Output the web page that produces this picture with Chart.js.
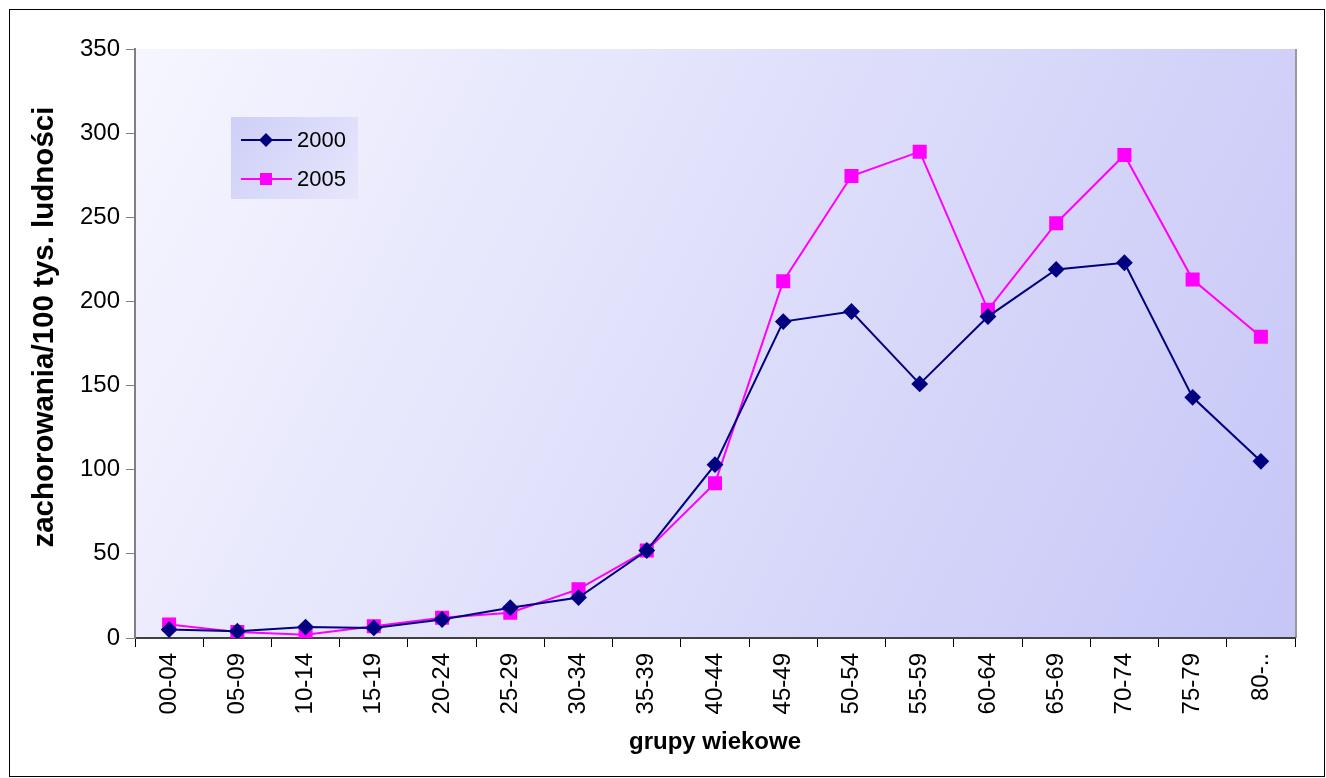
<!DOCTYPE html>
<html>
<head>
<meta charset="utf-8">
<script src="https://cdn.jsdelivr.net/npm/chart.js@4.4.1/dist/chart.umd.min.js"></script>
<style>
  html, body { margin: 0; padding: 0; background: #fff; }
  #wrap { width: 1326px; height: 778px; position: relative; }
</style>
</head>
<body>
<div id="wrap"><canvas id="chart" width="1326" height="778"></canvas></div>
<script>
const ageGroups = ['00-04', '05-09', '10-14', '15-19', '20-24', '25-29', '30-34', '35-39', '40-44',
    '45-49', '50-54', '55-59', '60-64', '65-69', '70-74', '75-79', '80-..'];
const rates2000 = [5, 4, 6.5, 6, 11, 18, 24, 52, 103, 188, 194, 151, 191, 219, 223, 143, 105];
const rates2005 = [8, 3.5, 2, 7, 12, 15, 29, 52, 92, 212, 274.5, 289, 195, 246.5, 287, 213, 179];
const yTicks = [0, 50, 100, 150, 200, 250, 300, 350];

const FONT = '"Liberation Sans", Arial, sans-serif';

// gradient plot background + outer frame
const backdrop = {
    id: 'backdrop',
    beforeDraw(chart) {
        const { ctx, chartArea: a } = chart;
        ctx.save();
        ctx.fillStyle = '#fff';
        ctx.fillRect(0, 0, chart.width, chart.height);
        const g = ctx.createLinearGradient(a.left, a.top, a.right, a.bottom);
        g.addColorStop(0, '#f6f6ff');
        g.addColorStop(1, '#c6c6f7');
        ctx.fillStyle = g;
        ctx.fillRect(a.left, a.top, a.right - a.left, a.bottom - a.top);
        // right shadow edge
        ctx.strokeStyle = '#9a9a9a';
        ctx.lineWidth = 2;
        ctx.beginPath();
        ctx.moveTo(a.right + 1, a.top);
        ctx.lineTo(a.right + 1, a.bottom);
        ctx.stroke();
        ctx.strokeStyle = '#000';
        ctx.lineWidth = 1;
        ctx.strokeRect(9.5, 9.5, chart.width - 11, chart.height - 11);
        ctx.restore();
    }
};

// legend box drawn inside the plot
const innerLegend = {
    id: 'innerLegend',
    afterDatasetsDraw(chart) {
        const { ctx } = chart;
        const x = 231, y = 117, w = 127, h = 82;
        ctx.save();
        const g = ctx.createLinearGradient(x, y, x + w, y + h);
        g.addColorStop(0, '#cfcff8');
        g.addColorStop(1, '#e6e6fc');
        ctx.fillStyle = g;
        ctx.fillRect(x, y, w, h);
        chart.data.datasets.forEach((ds, i) => {
            const cy = y + 23 + i * 39;
            ctx.strokeStyle = ds.borderColor;
            ctx.lineWidth = 2;
            ctx.beginPath();
            ctx.moveTo(x + 10, cy);
            ctx.lineTo(x + 61, cy);
            ctx.stroke();
            ctx.fillStyle = ds.backgroundColor;
            ctx.beginPath();
            if (ds.pointStyle === 'rectRot') {
                const r = 7;
                ctx.moveTo(x + 35 - r, cy);
                ctx.lineTo(x + 35, cy - r);
                ctx.lineTo(x + 35 + r, cy);
                ctx.lineTo(x + 35, cy + r);
                ctx.closePath();
            } else {
                ctx.rect(x + 35 - 6, cy - 6, 12, 12);
            }
            ctx.fill();
            ctx.fillStyle = '#000';
            ctx.font = '22px ' + FONT;
            ctx.textBaseline = 'middle';
            ctx.fillText(ds.label, x + 66, cy + 1);
        });
        ctx.restore();
    }
};

new Chart(document.getElementById('chart'), {
    type: 'line',
    data: {
        labels: ageGroups,
        datasets: [{
            label: '2000',
            data: rates2000,
            borderColor: '#000080',
            backgroundColor: '#000080',
            borderWidth: 2,
            pointStyle: 'rectRot',
            pointRadius: 7,
            pointHoverRadius: 7,
            tension: 0
        }, {
            label: '2005',
            data: rates2005,
            borderColor: '#ff00ff',
            backgroundColor: '#ff00ff',
            borderWidth: 2,
            pointStyle: 'rect',
            pointRadius: 8.5,
            pointHoverRadius: 8.5,
            tension: 0
        }]
    },
    options: {
        responsive: false,
        animation: false,
        layout: { padding: { left: 10, top: 49, right: 31, bottom: 0 } },
        plugins: {
            legend: { display: false },
            tooltip: { enabled: false }
        },
        scales: {
            x: {
                offset: true,
                afterFit(axis) { axis.height = 140; },
                grid: { offset: true, drawOnChartArea: false, color: '#000', tickLength: 9 },
                border: { color: '#404040', width: 2 },
                ticks: {
                    color: '#000', maxRotation: 90, minRotation: 90,
                    font: { family: FONT, size: 24 },
                    padding: 6
                },
                title: {
                    display: true, text: 'grupy wiekowe', color: '#000',
                    font: { family: FONT, size: 24, weight: 'bold' },
                    padding: { top: 0, bottom: 21 }
                }
            },
            y: {
                min: 0, max: 350,
                afterBuildTicks(axis) { axis.ticks = yTicks.map(v => ({ value: v })); },
                afterFit(axis) { axis.width = 125; },
                grid: { drawOnChartArea: false, color: '#808080', tickLength: 9 },
                border: { color: '#808080', width: 2 },
                ticks: {
                    color: '#000',
                    font: { family: FONT, size: 24 },
                    padding: 6
                },
                title: {
                    display: true, text: '    zachorowania/100 tys. ludności', color: '#000',
                    font: { family: FONT, size: 29.5, weight: 'bold' },
                    padding: { top: 17, bottom: 0 }
                }
            }
        }
    },
    plugins: [backdrop, innerLegend]
});
</script>
</body>
</html>
